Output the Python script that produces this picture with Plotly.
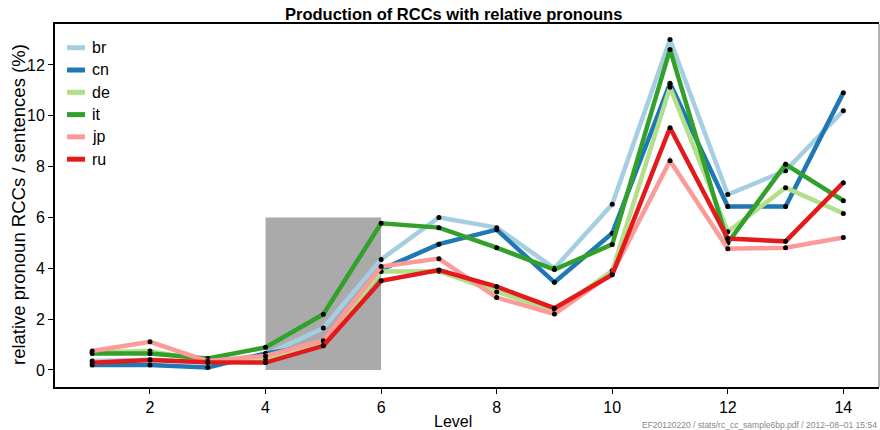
import plotly.graph_objects as go

levels = list(range(1, 15))
series_names = ["br", "cn", "de", "it", "jp", "ru"]
colors = ["#A6CEE3", "#1F78B4", "#B2DF8A", "#33A02C", "#FB9A99", "#E31A1C"]

br = [0.35, 0.40, 0.30, 0.60, 1.65, 4.35, 6.00, 5.60, 4.00, 6.52, 13.00, 6.90, 7.84, 10.20]
cn = [0.20, 0.20, 0.10, 0.65, 1.00, 3.95, 4.95, 5.52, 3.45, 5.38, 11.28, 6.43, 6.43, 10.91]
de = [0.70, 0.75, 0.35, 0.40, 1.05, 3.87, 3.88, 3.07, 2.30, 3.90, 11.12, 5.44, 7.17, 6.16]
it = [0.65, 0.65, 0.45, 0.89, 2.19, 5.77, 5.60, 4.81, 3.95, 4.94, 12.61, 5.00, 8.09, 6.66]
jp = [0.75, 1.11, 0.35, 0.55, 1.15, 4.07, 4.38, 2.85, 2.20, 3.80, 8.23, 4.77, 4.81, 5.21]
ru = [0.28, 0.39, 0.30, 0.29, 0.95, 3.51, 3.93, 3.28, 2.43, 3.75, 9.53, 5.17, 5.06, 7.37]
values = [br, cn, de, it, jp, ru]

# highlighted region (levels 4-6, 0-6 %)
region_x = [4, 6]
region_y = [0, 6]

y_ticks = [0, 2, 4, 6, 8, 10, 12]
x_ticks = [2, 4, 6, 8, 10, 12, 14]

title = "Production of RCCs with relative pronouns"
x_label = "Level"
y_label = "relative pronoun RCCs / sentences (%)"
footer = "EF20120220 / stats/rc_cc_sample6bp.pdf / 2012\u201308\u201301 15:54"

FONT = "Liberation Sans, Arial, sans-serif"

L, R, T, B = 55, 1, 24, 43
W, H = 880, 430
pw = W - L - R
ph = H - T - B


def px_x(px):
    return (px - L) / pw


def px_y(py):
    return (H - B - py) / ph


fig = go.Figure()
for name, col, vals in zip(series_names, colors, values):
    fig.add_trace(go.Scatter(
        x=levels, y=vals, mode="lines", name=name, legendgroup=name,
        line=dict(color=col, width=4.5), showlegend=False, hoverinfo="skip"))
    fig.add_trace(go.Scatter(
        x=levels, y=vals, mode="markers", name=name, legendgroup=name,
        marker=dict(color="black", size=5), showlegend=False))

fig.add_shape(type="rect", xref="x", yref="y",
              x0=region_x[0], x1=region_x[1], y0=region_y[0], y1=region_y[1],
              fillcolor="#AAAAAA", line=dict(width=0), layer="below")
fig.add_shape(type="line", xref="paper", yref="paper", x0=1, x1=1, y0=0, y1=1,
              line=dict(color="#999999", width=1.5))

annotations = [
    dict(text="<b>" + title + "</b>", xref="paper", yref="paper",
         x=px_x(453), y=px_y(14), showarrow=False,
         font=dict(size=16.5, family=FONT), xanchor="center", yanchor="middle"),
    dict(text=x_label, xref="paper", yref="paper", x=px_x(453), y=px_y(421),
         showarrow=False, font=dict(size=16, family=FONT),
         xanchor="center", yanchor="middle"),
    dict(text=y_label, xref="paper", yref="paper", x=px_x(18), y=px_y(205),
         textangle=-90, showarrow=False, font=dict(size=18.5, family=FONT),
         xanchor="center", yanchor="middle"),
    dict(text=footer, xref="paper", yref="paper", x=px_x(879), y=px_y(425),
         showarrow=False, font=dict(size=8.5, family=FONT, color="#888888"),
         xanchor="right", yanchor="middle"),
]

# manual legend (short line samples like the reference)
leg_y0, leg_dy = 47.7, 22.3
for i, (name, col) in enumerate(zip(series_names, colors)):
    yy = px_y(leg_y0 + i * leg_dy)
    fig.add_shape(type="line", xref="paper", yref="paper",
                  x0=px_x(67), x1=px_x(85), y0=yy, y1=yy,
                  line=dict(color=col, width=5))
    annotations.append(dict(text=name, xref="paper", yref="paper",
                            x=px_x(90), y=yy, showarrow=False,
                            font=dict(size=16, family=FONT),
                            xanchor="left", yanchor="middle"))

fig.update_layout(
    width=W, height=H,
    margin=dict(l=L, r=R, t=T, b=B, autoexpand=False),
    plot_bgcolor="white", paper_bgcolor="white",
    font=dict(family=FONT, size=16, color="black"),
    showlegend=False,
    xaxis=dict(range=[0.356, 14.617], tickvals=x_ticks, ticks="outside",
               ticklen=5, tickwidth=1, tickcolor="black",
               showgrid=False, zeroline=False, showline=True, linecolor="black",
               linewidth=2, mirror=True, automargin=False),
    yaxis=dict(range=[-0.669, 13.61], tickvals=y_ticks, ticks="outside",
               ticklen=5, tickwidth=1, tickcolor="black",
               showgrid=False, zeroline=False, showline=True, linecolor="black",
               linewidth=2, automargin=False),
    annotations=annotations,
)

fig.write_html("out.html", config={"displayModeBar": False},
               post_script="document.body.style.margin='0';document.body.style.padding='0';")
